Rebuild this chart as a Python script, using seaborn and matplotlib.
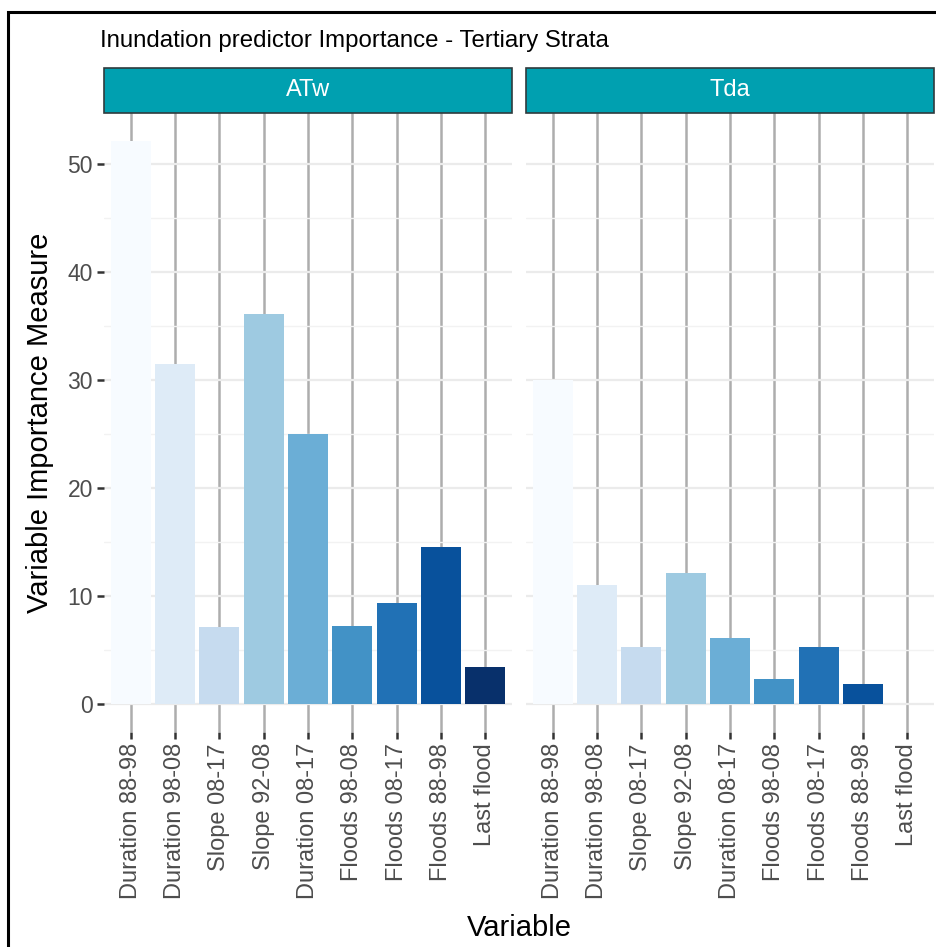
import matplotlib
matplotlib.use("Agg")
import matplotlib.pyplot as plt
from matplotlib.patches import Rectangle
from matplotlib.ticker import MultipleLocator
import seaborn as sns
import pandas as pd

# Predictor names, in plotting order
variables = ["Duration 88-98", "Duration 98-08", "Slope 08-17", "Slope 92-08",
             "Duration 08-17", "Floods 98-08", "Floods 08-17", "Floods 88-98",
             "Last flood"]

# Variable importance per stratum
atw_values = [52.1, 31.5, 7.1, 36.1, 25.0, 7.2, 9.3, 14.5, 3.45]
tda_values = [30.0, 11.0, 5.3, 12.1, 6.1, 2.3, 5.3, 1.85, 0.0]

strata = ["ATw", "Tda"]
y_ticks = [0, 10, 20, 30, 40, 50]

df = pd.concat([
    pd.DataFrame({"Variable": variables, "Importance": atw_values, "Stratum": "ATw"}),
    pd.DataFrame({"Variable": variables, "Importance": tda_values, "Stratum": "Tda"}),
], ignore_index=True)

sns.set_theme(style="white")
plt.rcParams["font.family"] = ["Liberation Sans", "DejaVu Sans"]

W, H = 936, 947
fig = plt.figure(figsize=(W / 100, H / 100), dpi=100)

# ColorBrewer "Blues", one shade per predictor
blues = ["#F7FBFF", "#DEEBF7", "#C6DBEF", "#9ECAE1", "#6BAED6",
         "#4292C6", "#2171B5", "#08519C", "#08306B"]

strip_color = "#00A0B0"
panel_top, panel_bot = 113, 732
strip_top = 68
panels_x = [(104, 512), (526, 934)]

ymax = max(max(atw_values), max(tda_values))
pad = 0.05 * ymax

for i, (stratum, (x0, x1)) in enumerate(zip(strata, panels_x)):
    ax = fig.add_axes([x0 / W, 1 - panel_bot / H, (x1 - x0) / W,
                       (panel_bot - panel_top) / H])
    sub = df[df["Stratum"] == stratum]
    sns.barplot(data=sub, x="Variable", y="Importance", hue="Variable",
                order=variables, hue_order=variables, palette=blues,
                dodge=False, legend=False, width=0.9, saturation=1,
                linewidth=0, ax=ax, zorder=3)
    ax.set_xlim(-0.6, len(variables) - 0.4)
    ax.set_ylim(-pad, ymax + pad)
    ax.yaxis.set_major_locator(MultipleLocator(10))
    ax.yaxis.set_minor_locator(MultipleLocator(5))
    ax.set_axisbelow(True)
    ax.grid(axis="x", color="#ADADAD", linewidth=1.8, zorder=0)
    ax.grid(axis="y", which="major", color="#EBEBEB", linewidth=1.6, zorder=0)
    ax.grid(axis="y", which="minor", color="#F2F2F2", linewidth=1.0, zorder=0)
    for s in ax.spines.values():
        s.set_visible(False)
    ax.set_xlabel("")
    ax.set_ylabel("")
    ax.tick_params(axis="x", which="major", length=5, width=1.8, color="#333333",
                   labelsize=17, labelcolor="#4D4D4D", pad=3, bottom=True)
    ax.set_xticks(range(len(variables)))
    ax.set_xticklabels(variables, rotation=90, ha="center", va="top")
    if i == 0:
        ax.set_yticks(y_ticks)
        ax.tick_params(axis="y", which="major", length=5, width=1.8,
                       color="#333333", labelsize=16.5, labelcolor="#4D4D4D",
                       pad=3, left=True)
        ax.tick_params(axis="y", which="minor", length=0)
    else:
        ax.tick_params(axis="y", which="both", length=0, labelleft=False)

    # facet strip
    sax = fig.add_axes([x0 / W, 1 - panel_top / H, (x1 - x0) / W,
                        (panel_top - strip_top) / H])
    sax.set_xlim(0, 1)
    sax.set_ylim(0, 1)
    sax.axis("off")
    sax.add_patch(Rectangle((0, 0), 1, 1, transform=sax.transAxes,
                            facecolor=strip_color, edgecolor="#2F3B3D",
                            linewidth=1.2, clip_on=False))
    sax.text(0.5, 0.5, stratum, color="white", fontsize=17,
             ha="center", va="center", transform=sax.transAxes)

fig.text(100 / W, 1 - 41 / H, "Inundation predictor Importance - Tertiary Strata",
         fontsize=17.3, color="black", ha="left", va="center")
fig.text(40 / W, 1 - (panel_top + panel_bot) / 2 / H, "Variable Importance Measure",
         fontsize=21, rotation=90, ha="center", va="center", color="black")
fig.text((104 + 934) / 2 / W, 1 - 928 / H, "Variable", fontsize=21,
         ha="center", va="center", color="black")

# outer frame
fig.patches.append(Rectangle((8 / W, -0.05), 1.1, 1 - 12 / H + 0.05,
                             transform=fig.transFigure, fill=False,
                             edgecolor="black", linewidth=2.2))

fig.savefig("out.png", dpi=100)
